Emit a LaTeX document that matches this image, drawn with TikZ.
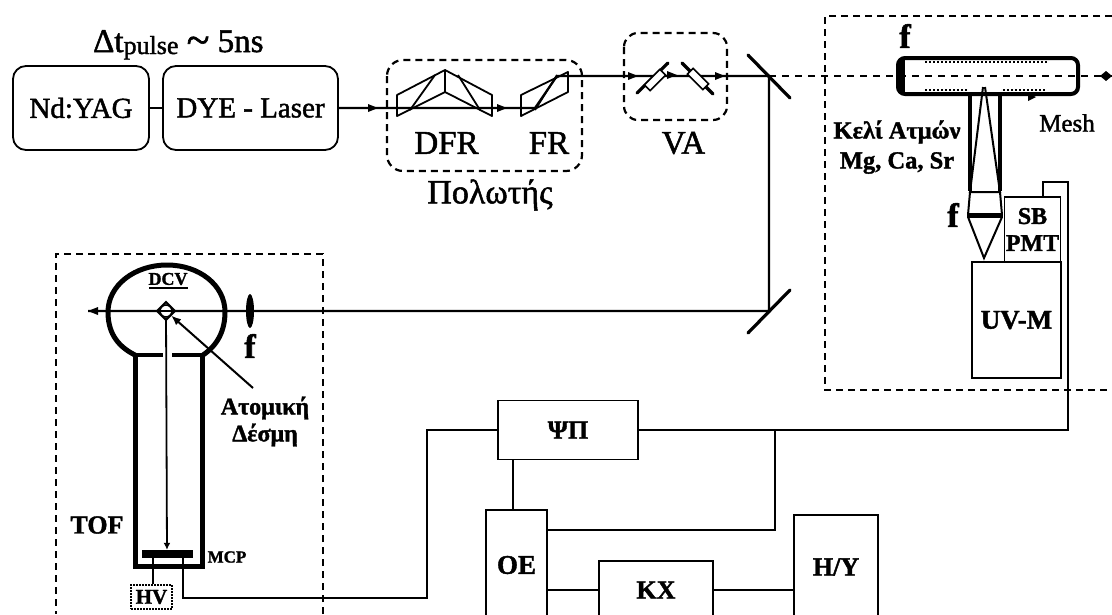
\documentclass[tikz,border=0pt]{standalone}
\usepackage{fontspec}
\setmainfont[FakeBold=1.5,BoldFont={Liberation Serif Bold}]{Liberation Serif}
\usetikzlibrary{arrows.meta,shapes.geometric}
\newcommand{\fs}[1]{\fontsize{#1}{#1}\selectfont}
\tikzset{
  lbl/.style={inner sep=0pt,align=center,font=\fs{#1}},
  blbl/.style={inner sep=0pt,align=center,font=\fs{#1}\bfseries},
  lbox/.style={draw,line width=1.8pt,rounded corners=13pt,inner sep=0pt},
  sbox/.style={draw,line width=1.8pt,inner sep=0pt,fill=white},
  wire/.style={line width=2.3pt},
  beam/.style={line width=2.2pt},
  thin2/.style={line width=1.8pt},
  dbox/.style={line width=2.2pt,dash pattern=on 7pt off 5pt},
  dbeam/.style={line width=2.2pt,dash pattern=on 7pt off 6pt},
  thick2/.style={line width=4pt},
  dots2/.style={line width=2pt,dash pattern=on 2pt off 2pt},
}
\begin{document}
\begin{tikzpicture}[x=1pt,y=-1pt]
\useasboundingbox (0,0) rectangle (1112,614);
\clip (0,0) rectangle (1112,614);
\fill[white] (0,0) rectangle (1112,614);

% top
\node[lbl=33,anchor=base west] (dt) at (93,52) {Δt\raisebox{-2pt}{\fs{26}pulse} {\fs{42}\raisebox{-2pt}{\textasciitilde}} 5ns};
\node[lbox,minimum width=136pt,minimum height=84pt,font=\fs{29}] (yag) at (81,108) {Nd:YAG};
\node[lbox,minimum width=175pt,minimum height=84pt,font=\fs{29}] (dye) at (250.5,108) {DYE - Laser};
\draw[thin2] (yag) -- (dye);

% beam
\coordinate (p1) at (535,108);
\coordinate (p3) at (557,76);
\coordinate (m1) at (769,76);
\coordinate (m2) at (769,311);
\coordinate (endr) at (1112,76);
\coordinate (endl) at (88,311);
\draw[beam] (dye.east) -- (p1) -- (p3) -- (m1) -- (m2) -- (endl);
\draw[dbeam] (m1) -- (endr);
\fill (1100,76) -- (1106,71) -- (1112,76) -- (1106,81) -- cycle;
\foreach \x/\y in {373/108,502/108,633/76,672/75,720/76}{\fill (\x-5,\y-4) -- (\x+5,\y) -- (\x-5,\y+4) -- cycle;}
\fill (88,311) -- (98,307) -- (98,315) -- cycle;

% prisms
\begin{scope}[line width=1.8pt,line join=round]
\draw (397,95) -- (445,70) -- (445,92) -- (397,116) -- cycle;
\draw (445,70) -- (492,95) -- (492,116) -- (445,92);
\draw (410,110) -- (435,75);
\draw (458,75) -- (480,110);
\draw (521,95) -- (568,72) -- (568,92) -- (521,116) -- cycle;
\draw (535,110) -- (557,75);
\end{scope}
\draw[dbox,rounded corners=16pt] (387,60) rectangle (582,171);
\node[lbl=33] (dfr) at (446.5,143) {DFR};
\node[lbl=33] (fr) at (549,143) {FR};
\node[lbl=34] (pol) at (490,195) {Πολωτής};

% VA
\draw[line width=3.2pt,line cap=round] (637,93) -- (668,63);
\draw[line width=3.2pt,line cap=round] (682,63) -- (713,94);
\draw[line width=1.6pt,fill=white,rotate around={45:(655,80)}] (644,76) rectangle (666,84);
\draw[line width=1.6pt,fill=white,rotate around={-45:(698,79)}] (687,75) rectangle (709,83);
\draw[dbox,rounded corners=14pt] (624,33) rectangle (727,120);
\node[lbl=33] (va) at (683.5,143) {VA};

% mirrors
\draw[line width=3.2pt,line cap=round] (748,55) -- (790,98);
\draw[line width=3.2pt,line cap=round] (748,333) -- (790,290);

% right box
\draw[dbox] (1112,16) -- (825,16) -- (825,390) -- (1112,390);
\draw[thick2,rounded corners=7pt] (898,58) rectangle (1078,94);
\draw[line width=5pt] (902,60) -- (902,92);
\draw[dots2] (925,62) -- (1048,62);
\draw[dots2] (925,90) -- (968,90);
\draw[dots2] (1003,90) -- (1045,90);
\fill (1028,93) -- (1036,97) -- (1028,101) -- cycle;
\node[blbl=34] (f1) at (905,36) {f};
\node[blbl=24.5] (cellA) at (897,132) {Κελί Ατμών};
\node[blbl=24.5] (cellB) at (897,163) {Mg, Ca, Sr};
\node[lbl=25] (mesh) at (1067,123) {Mesh};
\draw[thick2] (970,96) -- (970,191);
\draw[thick2] (1000,96) -- (1000,191);
\draw[line width=2pt] (983,87) -- (970,192) -- (1000,192) -- (985,87);
\draw[line width=2pt] (970,192) -- (968,215);
\draw[line width=2pt] (1000,192) -- (1002,215);
\draw[line width=5pt] (967,215) -- (1003,215);
\draw[line width=2pt] (968,217) -- (984,258) -- (1002,217);
\node[blbl=34] (f2) at (953,215) {f};
\node[sbox,minimum width=56pt,minimum height=65pt,font=\fs{24}\bfseries,align=center] (sb) at (1032.5,229.5) {SB\\[3pt]PMT};
\node[sbox,minimum width=89pt,minimum height=116pt,font=\fs{27}\bfseries] (uv) at (1016.5,320) {UV-M};

% TOF
\draw[dbox] (323,614) -- (323,254) -- (56,254) -- (56,614);
\draw[line width=5pt,line cap=round] (135,355) .. controls (115,345) and (108,330) .. (108,312) .. controls (108,285) and (135,265) .. (167,265) .. controls (199,265) and (225,285) .. (225,312) .. controls (225,330) and (218,345) .. (203,355);
\draw[line width=4pt] (135,355) -- (163,355);
\draw[line width=4pt] (172,355) -- (203,355);
\draw[line width=5pt,line join=miter] (135,355) -- (135,566) -- (202,566) -- (202,355);
\node[draw,line width=1.6pt,circle,minimum size=12pt,inner sep=0pt,fill=white] (atom) at (166,311) {};
\draw[thin2] (157,311) -- (166,302) -- (175,311) -- (166,320) -- cycle;
\draw[line width=2.2pt] (157,311) -- (175,311);
\node[draw=none,fill=black,inner sep=0pt,minimum width=51pt,minimum height=8pt] (mcpbar) at (167,554) {};
\draw[line width=1.8pt,-{Latex[length=7pt,width=7pt]}] (atom) -- (mcpbar);
\node[blbl=18] (dcv) at (168,279) {DCV};
\draw[line width=1.5pt] (149,288) -- (188,288);
\node[ellipse,fill=black,inner sep=0pt,minimum width=8pt,minimum height=34pt] (lens) at (250,311) {};
\node[blbl=34] (f3) at (250,346) {f};
\node[blbl=24] (atA) at (265,408) {Ατομική};
\node[blbl=24] (atB) at (265,435) {Δέσμη};
\coordinate (ptr) at (253,388);
\draw[line width=2pt,-{Latex[length=10pt,width=8pt]}] (ptr) -- (atom);
\node[blbl=26] (tof) at (97,525) {TOF};
\node[blbl=17] (mcp) at (227,557) {MCP};
\node[draw,dash pattern=on 2pt off 1pt,line width=1.2pt,minimum width=41pt,minimum height=24pt,inner sep=0pt,font=\fs{21}\bfseries] (hv) at (151.5,597) {HV};
\draw[thin2] (153,558) -- (hv.north -| 153,0);
\coordinate (tofout) at (183,558);

% electronics
\node[sbox,minimum width=140pt,minimum height=59pt,font=\fs{26}\bfseries] (psi) at (568,430) {ΨΠ};
\node[sbox,minimum width=61pt,minimum height=110pt,font=\fs{27}\bfseries] (oe) at (516.5,565) {OE};
\node[sbox,minimum width=114pt,minimum height=58pt,font=\fs{26}\bfseries] (kx) at (656,590) {KX};
\node[sbox,minimum width=84pt,minimum height=104pt,font=\fs{26}\bfseries] (hy) at (836,567) {H/Y};
\coordinate (c1) at (1068,430);
\coordinate (c2) at (1068,182);
\coordinate (c3) at (1043,182);
\coordinate (c4) at (775,430);
\coordinate (c5) at (775,530);
\draw[wire] (tofout) -- (183,598) -- (427,598) -- (427,430) -- (psi.west);
\draw[wire] (psi.east) -- (c1) -- (c2) -- (c3) -- (c3 |- sb.north);
\draw[wire] (c4) -- (c5) -- (oe.east |- c5);
\draw[wire] (513,460) -- (513,510);
\draw[wire] (oe.east |- kx.west) -- (kx.west);
\draw[wire] (kx.east) -- (hy.west |- kx.east);
\end{tikzpicture}
\end{document}
